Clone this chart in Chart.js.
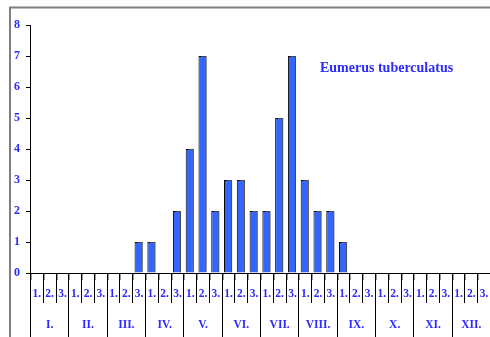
<!DOCTYPE html>
<html>
<head>
<meta charset="utf-8">
<script src="https://cdn.jsdelivr.net/npm/chart.js@4/dist/chart.umd.min.js"></script>
<style>
  html, body { margin: 0; padding: 0; background: #fff; }
  #wrap { width: 490px; height: 337px; position: relative; }
</style>
</head>
<body>
<div id="wrap"><canvas id="c" width="490" height="337"></canvas></div>
<script>
// Months (Roman numerals) and ten-day periods within each month
const months = ['I.', 'II.', 'III.', 'IV.', 'V.', 'VI.', 'VII.', 'VIII.', 'IX.', 'X.', 'XI.', 'XII.'];
const decades = ['1.', '2.', '3.'];

// Number of records per ten-day period, January to December
const counts = [
  0, 0, 0,   // I.
  0, 0, 0,   // II.
  0, 0, 1,   // III.
  1, 0, 2,   // IV.
  4, 7, 2,   // V.
  3, 3, 2,   // VI.
  2, 5, 7,   // VII.
  3, 2, 2,   // VIII.
  1, 0, 0,   // IX.
  0, 0, 0,   // X.
  0, 0, 0,   // XI.
  0, 0, 0    // XII.
];

const yTicks = [0, 1, 2, 3, 4, 5, 6, 7, 8];
const speciesName = 'Eumerus tuberculatus';

const labels = [];
months.forEach(m => decades.forEach(d => labels.push(m + d)));

const BLUE_TEXT = '#2b2bff';
const FONT = '"Liberation Serif", "DejaVu Serif", serif';

// Frame, x axis with two-level labels, and the species name
const decorPlugin = {
  id: 'decor',
  beforeDatasetsDraw(chart) {
    const ctx = chart.ctx;
    ctx.save();
    ctx.shadowColor = 'rgba(90,90,90,0.8)';
    ctx.shadowOffsetX = 1.5;
    ctx.shadowOffsetY = -1;
    ctx.shadowBlur = 0;
  },
  afterDatasetsDraw(chart) {
    chart.ctx.restore();
  },
  afterDraw(chart) {
    const ctx = chart.ctx;
    const x = chart.scales.x;
    const area = chart.chartArea;
    const base = chart.scales.y.getPixelForValue(0);
    const n = labels.length;
    const step = x.getPixelForValue(1) - x.getPixelForValue(0);

    ctx.save();
    // outer frame
    ctx.strokeStyle = '#7f7f7f';
    ctx.lineWidth = 2;
    ctx.beginPath();
    ctx.moveTo(10, 337);
    ctx.lineTo(10, 7.5);
    ctx.lineTo(490, 7.5);
    ctx.stroke();

    // x axis line
    ctx.strokeStyle = '#000';
    ctx.lineWidth = 1;
    ctx.beginPath();
    ctx.moveTo(area.left, Math.round(base) + 0.5);
    ctx.lineTo(490, Math.round(base) + 0.5);
    ctx.stroke();

    // separators between periods and months
    for (let i = 0; i <= n; i++) {
      const px = Math.round(x.getPixelForValue(i) - step / 2) + 0.5;
      const bottom = (i % 3 === 0) ? 337 : base + 30;
      ctx.strokeStyle = '#000';
      ctx.beginPath();
      ctx.moveTo(px, base);
      ctx.lineTo(px, bottom);
      ctx.stroke();
      ctx.strokeStyle = '#9a9a9a';
      ctx.beginPath();
      ctx.moveTo(px + 1, base + 1);
      ctx.lineTo(px + 1, base + 7);
      ctx.stroke();
    }

    // labels
    ctx.fillStyle = BLUE_TEXT;
    ctx.textAlign = 'center';
    ctx.textBaseline = 'middle';
    ctx.font = 'bold 11.5px ' + FONT;
    labels.forEach((l, i) => {
      ctx.fillText(decades[i % 3], x.getPixelForValue(i) + 0.5, base + 21);
    });
    months.forEach((m, j) => {
      ctx.fillText(m, x.getPixelForValue(j * 3 + 1) + 0.5, base + 52);
    });

    // species name
    ctx.font = 'bold 14px ' + FONT;
    ctx.textAlign = 'left';
    ctx.fillText(speciesName, 320, 68);
    ctx.restore();
  }
};

new Chart(document.getElementById('c'), {
  type: 'bar',
  data: {
    labels: labels,
    datasets: [{
      data: counts,
      backgroundColor: '#3366ff',
      borderColor: '#000',
      borderWidth: 1,
      borderSkipped: 'bottom',
      categoryPercentage: 1,
      barPercentage: 0.63
    }]
  },
  options: {
    responsive: false,
    animation: false,
    layout: { padding: { left: 10, right: 0, top: 25, bottom: 64 } },
    plugins: { legend: { display: false }, tooltip: { enabled: false } },
    scales: {
      x: {
        display: false,
        offset: true
      },
      y: {
        min: 0,
        max: 8,
        afterFit(s) { s.width = 20; },
        afterBuildTicks(s) { s.ticks = yTicks.map(v => ({ value: v })); },
        border: { display: true, color: '#000', width: 1 },
        grid: { drawOnChartArea: false, drawTicks: true, tickLength: 4, color: '#000' },
        ticks: {
          color: BLUE_TEXT,
          padding: 6,
          font: { family: FONT, size: 12, weight: 'bold' }
        }
      }
    }
  },
  plugins: [decorPlugin]
});
</script>
</body>
</html>
